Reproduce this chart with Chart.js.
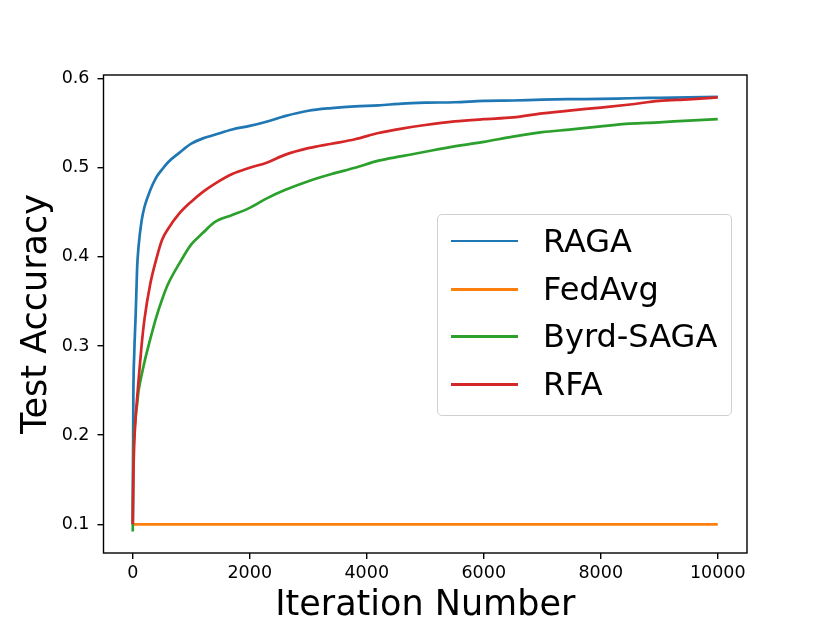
<!DOCTYPE html>
<html>
<head>
<meta charset="utf-8">
<script src="https://cdn.jsdelivr.net/npm/chart.js@4"></script>
<style>
  body { margin: 0; background: #fff; }
  #wrap { position: relative; width: 830px; height: 623px; }
  #legend {
    position: absolute; left: 437px; top: 214px; width: 293px; height: 200px;
    border: 1.3px solid #d0d0d0; border-radius: 5px; background: rgba(255,255,255,0.8);
    font-family: 'DejaVu Sans', sans-serif; font-size: 32px; color: #000;
  }
  .row { position: absolute; left: 0; height: 40px; line-height: 40px; white-space: nowrap; }
  .swatch { position: absolute; left: 13px; top: 19px; width: 67px; height: 2.6px; }
  .label { position: absolute; left: 105px; top: 0; }
</style>
</head>
<body>
<div id="wrap">
  <canvas id="chart" width="830" height="623"></canvas>
  <div id="legend"></div>
</div>
<script>
// Dataset
const iterations = [0, 10, 25, 50, 75, 100, 150, 200, 300, 400, 500, 600, 800, 1000, 1200, 1400, 1700, 2000,
    2300, 2600, 3000, 3400, 3800, 4200, 4600, 5000, 5500, 6000, 6500, 7000, 7500, 8000, 8500, 9000, 9500, 10000];

const raga = [0.100, 0.240, 0.290, 0.335, 0.388, 0.412, 0.440, 0.456, 0.475, 0.489, 0.498, 0.506, 0.517, 0.527,
    0.533, 0.537, 0.543, 0.547, 0.552, 0.558, 0.564, 0.567, 0.569, 0.570, 0.572, 0.573, 0.5735, 0.575, 0.5755,
    0.5765, 0.577, 0.5773, 0.578, 0.5785, 0.579, 0.5795];

const fedavgIterations = [0, 10000];
const fedavg = [0.1, 0.1];

const byrdSaga = [0.092, 0.170, 0.200, 0.222, 0.235, 0.250, 0.267, 0.282, 0.308, 0.332, 0.352, 0.369, 0.393,
    0.414, 0.427, 0.439, 0.447, 0.455, 0.466, 0.475, 0.485, 0.493, 0.500, 0.508, 0.513, 0.518, 0.524, 0.529,
    0.535, 0.540, 0.543, 0.5465, 0.5495, 0.551, 0.553, 0.5545];

const rfa = [0.100, 0.153, 0.190, 0.220, 0.242, 0.262, 0.300, 0.330, 0.370, 0.397, 0.419, 0.431, 0.449, 0.462,
    0.473, 0.482, 0.493, 0.500, 0.506, 0.5145, 0.522, 0.527, 0.532, 0.539, 0.544, 0.548, 0.552, 0.5545, 0.5565,
    0.561, 0.5645, 0.5675, 0.571, 0.575, 0.5768, 0.579];

const seriesNames = ['RAGA', 'FedAvg', 'Byrd-SAGA', 'RFA'];
const seriesColors = ['#1f77b4', '#ff7f0e', '#2ca02c', '#d62728'];

const xTicks = [0, 2000, 4000, 6000, 8000, 10000];
const yTicks = [0.1, 0.2, 0.3, 0.4, 0.5, 0.6];

const toPoints = (xs, ys) => xs.map((x, i) => ({ x: x, y: ys[i] }));

const seriesPoints = [
    toPoints(iterations, raga),
    toPoints(fedavgIterations, fedavg),
    toPoints(iterations, byrdSaga),
    toPoints(iterations, rfa)
];

const FONT = 'DejaVu Sans';

// box around the plot area, like matplotlib spines
const frame = {
    id: 'frame',
    afterDraw(chart) {
        const a = chart.chartArea;
        const ctx = chart.ctx;
        ctx.save();
        ctx.strokeStyle = '#000';
        ctx.lineWidth = 1.4;
        ctx.strokeRect(a.left, a.top, a.right - a.left, a.bottom - a.top);
        ctx.restore();
    }
};

const ctx = document.getElementById('chart').getContext('2d');

new Chart(ctx, {
    type: 'line',
    data: {
        datasets: seriesNames.map((name, i) => ({
            label: name,
            data: seriesPoints[i],
            borderColor: seriesColors[i],
            backgroundColor: seriesColors[i],
            borderWidth: 2.7,
            pointRadius: 0,
            cubicInterpolationMode: 'monotone',
            fill: false,
            order: seriesNames.length - i // RFA drawn on top
        }))
    },
    options: {
        responsive: false,
        animation: false,
        devicePixelRatio: 1,
        layout: { padding: { left: 0, top: 75, right: 83, bottom: 0 } },
        plugins: {
            legend: { display: false },
            tooltip: { enabled: false }
        },
        scales: {
            x: {
                type: 'linear',
                min: -500,
                max: 10500,
                afterBuildTicks: (axis) => { axis.ticks = xTicks.map(v => ({ value: v })); },
                afterFit: (axis) => { axis.height = 70; },
                grid: { drawOnChartArea: false, drawTicks: true, tickLength: 6, color: '#000', lineWidth: 1.4 },
                border: { display: false },
                ticks: {
                    color: '#000', padding: 4, maxRotation: 0,
                    font: { family: FONT, size: 17.5 },
                    callback: (v) => String(v)
                },
                title: {
                    display: true, text: 'Iteration Number', color: '#000',
                    font: { family: FONT, size: 35, lineHeight: 1 },
                    padding: { top: 0, bottom: 0 }
                }
            },
            y: {
                type: 'linear',
                min: 0.0678,
                max: 0.6041,
                afterBuildTicks: (axis) => { axis.ticks = yTicks.map(v => ({ value: v })); },
                afterFit: (axis) => { axis.width = 103.5; },
                grid: { drawOnChartArea: false, drawTicks: true, tickLength: 6, color: '#000', lineWidth: 1.4 },
                border: { display: false },
                ticks: {
                    color: '#000', padding: 8,
                    font: { family: FONT, size: 17.5 },
                    callback: (v) => v.toFixed(1)
                },
                title: {
                    display: true, text: 'Test Accuracy', color: '#000',
                    font: { family: FONT, size: 35, lineHeight: 1 },
                    padding: { top: 19, bottom: 0 }
                }
            }
        }
    },
    plugins: [frame]
});

// Legend inside the axes (HTML text)
const legendEl = document.getElementById('legend');
const rowCenters = [25.7, 74, 121.4, 169];
seriesNames.forEach((name, i) => {
    const row = document.createElement('div');
    row.className = 'row';
    row.style.top = (rowCenters[i] - 20) + 'px';
    row.innerHTML = '<div class="swatch" style="background:' + seriesColors[i] + '"></div>' +
        '<div class="label">' + name + '</div>';
    legendEl.appendChild(row);
});
</script>
</body>
</html>
